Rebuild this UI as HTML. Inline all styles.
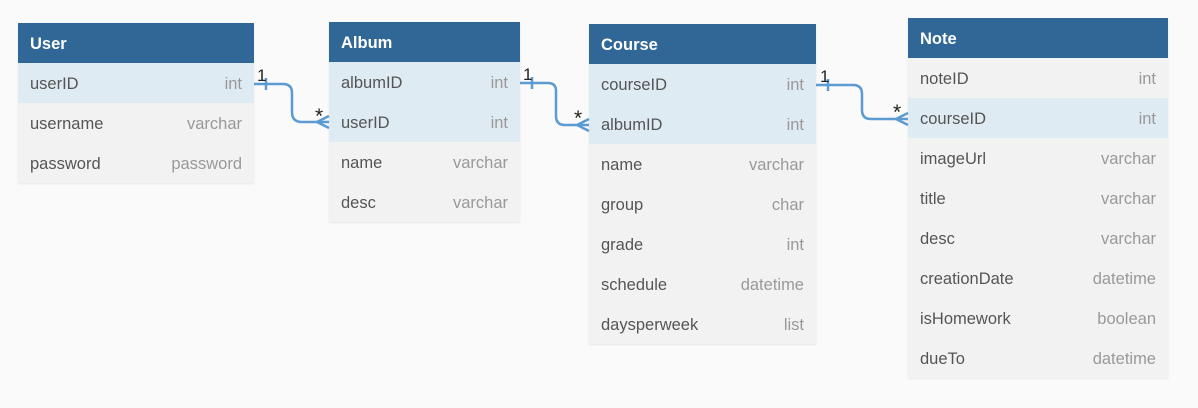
<!DOCTYPE html>
<html><head><style>
body{margin:0;width:1198px;height:408px;background:#fafafa;position:relative;overflow:hidden;font-family:"Liberation Sans",sans-serif}
.t{position:absolute;box-shadow:0 1px 2px rgba(0,0,0,.08)}
.h{height:40px;background:#306796;color:#fff;font-weight:bold;font-size:16.5px;line-height:42px;padding-left:12px}
.r{height:40px;background:#f2f2f2;font-size:16.5px;line-height:42px;padding:0 12px;color:#555;display:flex;justify-content:space-between}
.r span{color:#999}
.k{background:#dfebf3}
svg{position:absolute;left:0;top:0}
</style></head><body>
<div class="t" style="left:18px;top:23px;width:236px">
<div class="h">User</div>
<div class="r k">userID<span>int</span></div>
<div class="r">username<span>varchar</span></div>
<div class="r">password<span>password</span></div>
</div>
<div class="t" style="left:329px;top:22px;width:191px">
<div class="h">Album</div>
<div class="r k">albumID<span>int</span></div>
<div class="r k">userID<span>int</span></div>
<div class="r">name<span>varchar</span></div>
<div class="r">desc<span>varchar</span></div>
</div>
<div class="t" style="left:589px;top:24px;width:227px">
<div class="h">Course</div>
<div class="r k">courseID<span>int</span></div>
<div class="r k">albumID<span>int</span></div>
<div class="r">name<span>varchar</span></div>
<div class="r">group<span>char</span></div>
<div class="r">grade<span>int</span></div>
<div class="r">schedule<span>datetime</span></div>
<div class="r">daysperweek<span>list</span></div>
</div>
<div class="t" style="left:908px;top:18px;width:260px">
<div class="h">Note</div>
<div class="r">noteID<span>int</span></div>
<div class="r k">courseID<span>int</span></div>
<div class="r">imageUrl<span>varchar</span></div>
<div class="r">title<span>varchar</span></div>
<div class="r">desc<span>varchar</span></div>
<div class="r">creationDate<span>datetime</span></div>
<div class="r">isHomework<span>boolean</span></div>
<div class="r">dueTo<span>datetime</span></div>
</div>
<svg width="1198" height="408" fill="none" stroke="#5b9bd1" stroke-width="2.5">
<path d="M254 84H283Q292 84 292 93V112Q292 122 302 122H329"/>
<path d="M266 78V90M329 116L317 122L329 128"/>
<path d="M520 83H548Q556 83 556 91V116Q556 125 565 125H589"/>
<path d="M532 77V89M589 119L577 125L589 131"/>
<path d="M816 85H853Q862 85 862 94V110Q862 119 871 119H908"/>
<path d="M828 79V91M908 113L896 119L908 125"/>
<g fill="#222" stroke="none" font-size="17" font-family="Liberation Sans,sans-serif">
<text x="257" y="81">1</text><text x="315" y="123" font-size="21">*</text>
<text x="523" y="80">1</text><text x="574" y="125" font-size="21">*</text>
<text x="820" y="82">1</text><text x="893" y="119" font-size="21">*</text>
</g>
</svg>
</body></html>
